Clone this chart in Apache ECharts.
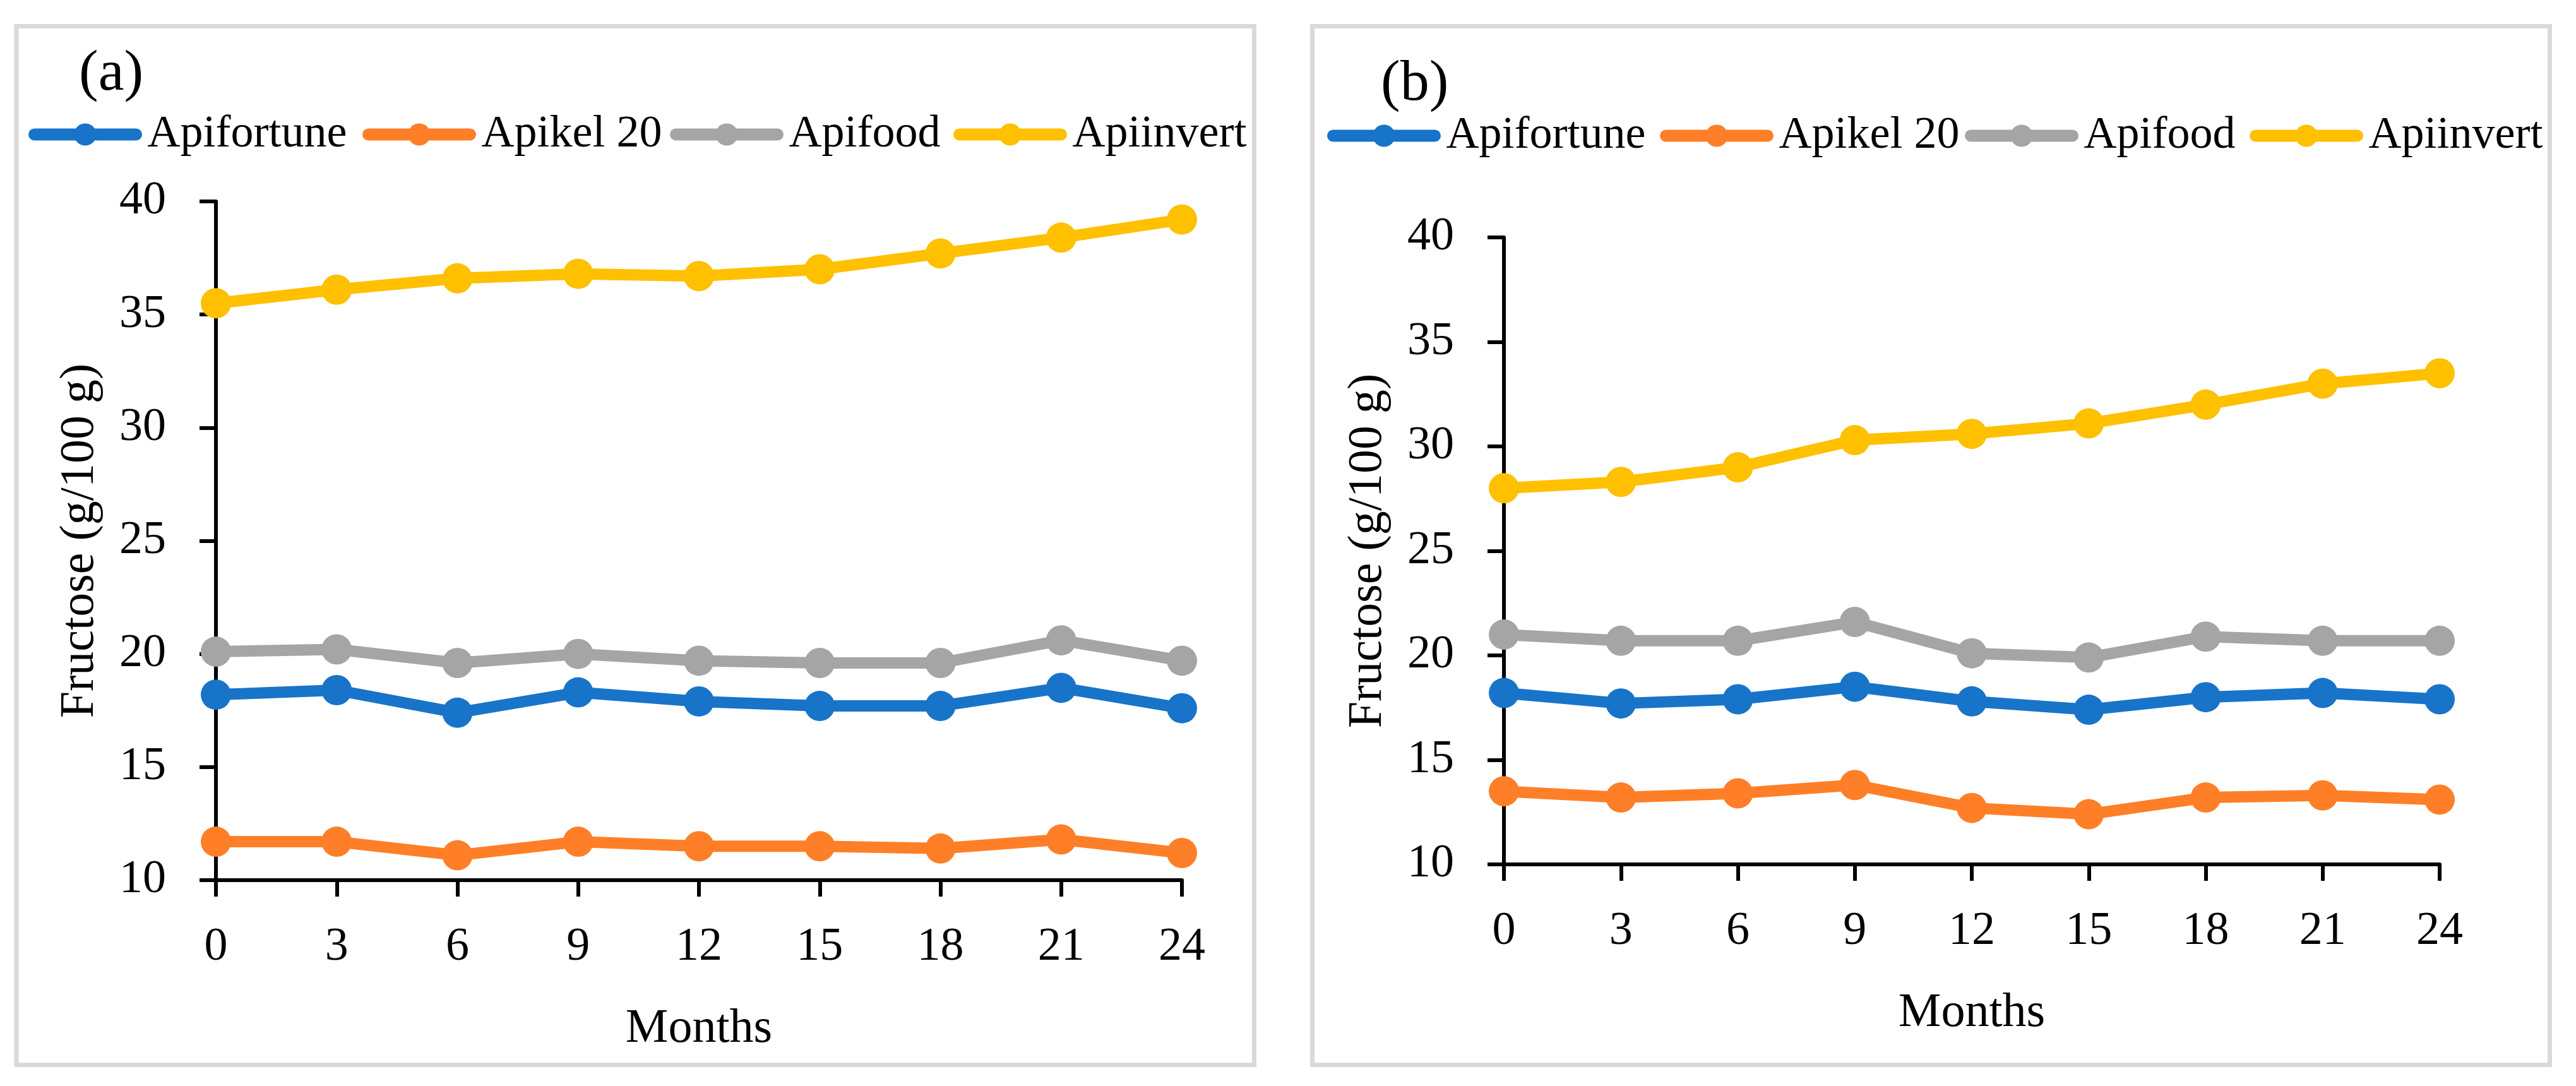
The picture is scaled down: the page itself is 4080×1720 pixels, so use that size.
<!DOCTYPE html>
<html><head><meta charset="utf-8">
<script src="https://cdn.jsdelivr.net/npm/echarts@6/dist/echarts.min.js"></script>
<style>html,body{margin:0;padding:0;background:#fff}#c{width:4080px;height:1720px}</style>
</head><body><div id="c"></div>
<script>
// ---- data ----
const months = [0, 3, 6, 9, 12, 15, 18, 21, 24];
const seriesNames = ['Apifortune', 'Apikel 20', 'Apifood', 'Apiinvert'];
const colors = ['#1874C8', '#FE7F27', '#A5A5A5', '#FFC000'];
const yAxisName = 'Fructose (g/100 g)';
const xAxisName = 'Months';
const panelLabels = ['(a)', '(b)'];

// panel (a)
const aApifortune = [18.2, 18.4, 17.4, 18.3, 17.9, 17.7, 17.7, 18.5, 17.6];
const aApikel20   = [11.7, 11.7, 11.1, 11.7, 11.5, 11.5, 11.4, 11.8, 11.2];
const aApifood    = [20.1, 20.2, 19.6, 20.0, 19.7, 19.6, 19.6, 20.6, 19.7];
const aApiinvert  = [35.5, 36.1, 36.6, 36.8, 36.7, 37.0, 37.7, 38.4, 39.2];
// panel (b)
const bApifortune = [18.2, 17.7, 17.9, 18.5, 17.8, 17.4, 18.0, 18.2, 17.9];
const bApikel20   = [13.5, 13.2, 13.4, 13.8, 12.7, 12.4, 13.2, 13.3, 13.1];
const bApifood    = [21.0, 20.7, 20.7, 21.6, 20.1, 19.9, 20.9, 20.7, 20.7];
const bApiinvert  = [28.0, 28.3, 29.0, 30.3, 30.6, 31.1, 32.0, 33.0, 33.5];

const panelData = [
  [aApifortune, aApikel20, aApifood, aApiinvert],
  [bApifortune, bApikel20, bApifood, bApiinvert]
];

// ---- layout / style ----
const FONT = '"Liberation Serif", "Times New Roman", serif';
const FS_TICK = 74;
const FS_LEG = 72;
const FS_NAME = 76;
const grids = [
  { left: 342, top: 319, width: 1530, height: 1075 },
  { left: 2382, top: 376, width: 1482, height: 993 }
];
const legendLefts = [[45, 574, 1061, 1510], [2102, 2629, 3112, 3563]];
const legendTops = [177, 179];

const chart = echarts.init(document.getElementById('c'), null, { renderer: 'canvas' });

function axisCommon() {
  return {
    axisLine: { show: true, onZero: false, lineStyle: { color: '#000', width: 6 } },
    axisTick: { show: true, inside: false, length: 26, lineStyle: { color: '#000', width: 6 } },
    splitLine: { show: false },
    axisLabel: { color: '#000', fontFamily: FONT, fontSize: FS_TICK },
    nameTextStyle: { color: '#000', fontFamily: FONT, fontSize: FS_NAME }
  };
}

const xAxes = grids.map((g, i) => Object.assign(axisCommon(), {
  type: 'value', gridIndex: i, min: 0, max: 24, interval: 3,
  name: xAxisName, nameLocation: 'middle', nameGap: 198
}));
xAxes.forEach(a => { a.axisLabel.margin = 70; });

const yAxes = grids.map((g, i) => Object.assign(axisCommon(), {
  type: 'value', gridIndex: i, min: 10, max: 40, interval: 5,
  name: yAxisName, nameLocation: 'middle', nameGap: 177
}));
yAxes.forEach(a => { a.axisLabel.margin = 79; });

const series = [];
panelData.forEach((arrs, p) => {
  arrs.forEach((vals, k) => {
    series.push({
      type: 'line', name: seriesNames[k], xAxisIndex: p, yAxisIndex: p,
      data: months.map((m, j) => [m, vals[j]]),
      symbol: 'circle', symbolSize: 48, clip: false,
      lineStyle: { width: 18, color: colors[k], cap: 'round', join: 'round' },
      itemStyle: { color: colors[k] },
      emphasis: { disabled: true },
      animation: false
    });
  });
});

const legends = [];
legendLefts.forEach((lefts, p) => {
  lefts.forEach((l, k) => {
    legends.push({
      data: [seriesNames[k]], left: l, top: legendTops[p], padding: 0,
      orient: 'horizontal', itemWidth: 161, itemHeight: 44, itemGap: 0,
      selectedMode: false,
      textStyle: { color: '#000', fontFamily: FONT, fontSize: FS_LEG, padding: [0, 0, 0, 13] },
      lineStyle: { width: 19, cap: 'round' },
      itemStyle: { borderWidth: 0 }
    });
  });
});

const option = {
  backgroundColor: '#fff',
  animation: false,
  grid: grids.map(g => Object.assign({ outerBoundsMode: 'none', containLabel: false }, g)),
  xAxis: xAxes,
  yAxis: yAxes,
  legend: legends,
  series: series,
  graphic: [
    { type: 'rect', z: 100, shape: { x: 26, y: 41.5, width: 1960.5, height: 1645 },
      style: { fill: 'none', stroke: '#d9d9d9', lineWidth: 7 }, silent: true },
    { type: 'rect', z: 100, shape: { x: 2078.5, y: 41.5, width: 1960, height: 1645 },
      style: { fill: 'none', stroke: '#d9d9d9', lineWidth: 7 }, silent: true },
    { type: 'text', left: 125, top: 72, style: { text: panelLabels[0], font: '92px ' + FONT, fill: '#000' } },
    { type: 'text', left: 2187, top: 88, style: { text: panelLabels[1], font: '92px ' + FONT, fill: '#000' } }
  ]
};
chart.setOption(option);
</script>
</body></html>
